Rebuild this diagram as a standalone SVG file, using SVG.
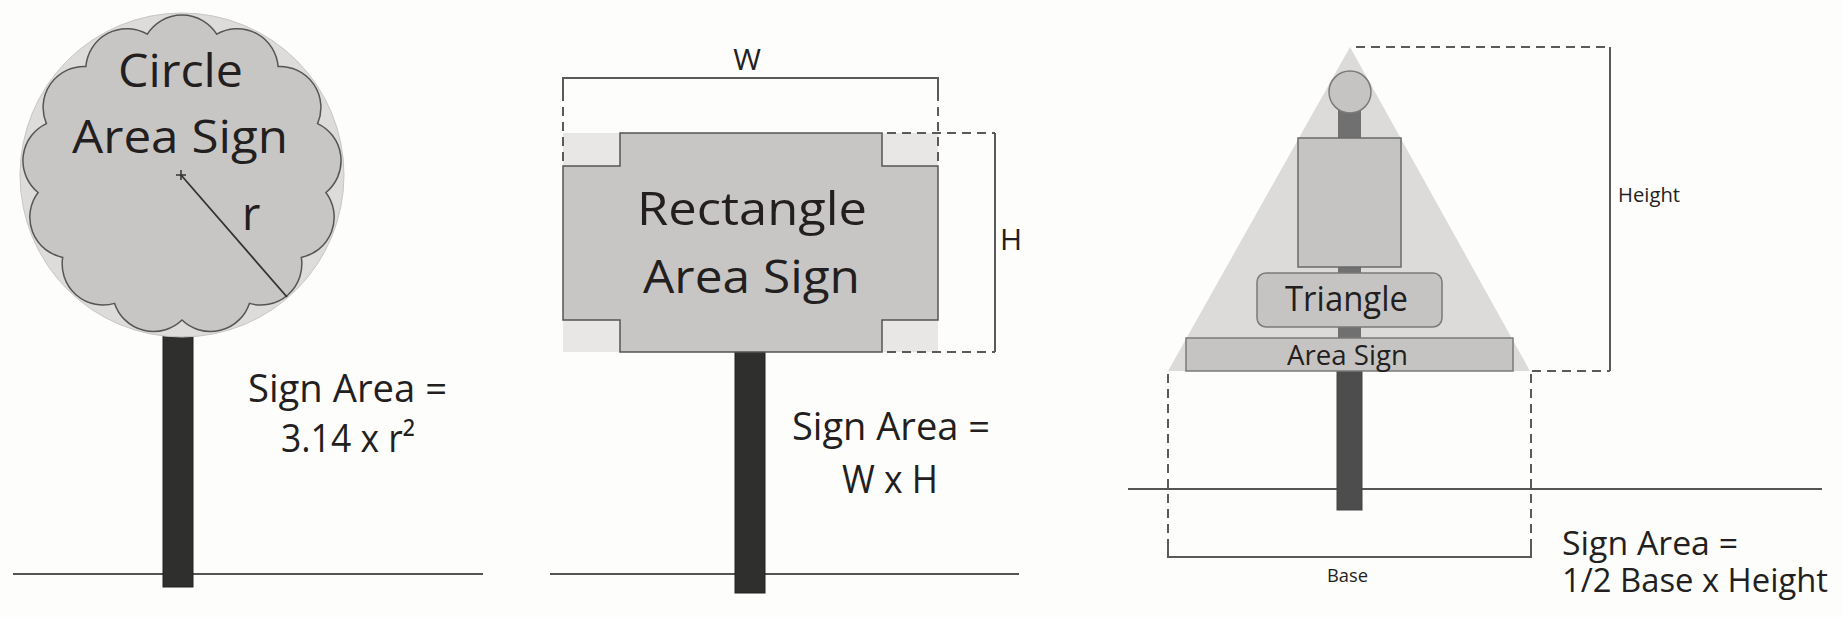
<svg xmlns="http://www.w3.org/2000/svg" width="1843" height="617" viewBox="0 0 1843 617">
<style>
.t{font-family:"Open Sans","Noto Sans","Liberation Sans",sans-serif;fill:#231f20;}
.dim{stroke:#5a5a5a;stroke-width:2;fill:none;}
.dash{stroke:#5a5a5a;stroke-width:2;fill:none;stroke-dasharray:9 6;}
.ground{stroke:#555;stroke-width:2;fill:none;}
.post{fill:#2f2f2d;stroke:#222;stroke-width:1;}
.sign{fill:#c8c6c4;stroke:#555;stroke-width:1.5;}
.light{fill:#e9e7e5;}
</style>
<rect x="0" y="0" width="1843" height="617" fill="#fdfdfb"/>

<g id="circle-sign">
  <line class="ground" x1="13" y1="574" x2="483" y2="574"/>
  <rect class="post" x="163" y="333" width="30" height="254"/>
  <circle cx="182" cy="175" r="162" fill="#dedcda" stroke="#c8c6c4" stroke-width="1"/>
  <path class="sign" d="M147.3,34.2 A41,41 0 0 1 216.7,34.2 A41,41 0 0 1 278.1,66.5 A41,41 0 0 1 317.6,123.6 A41,41 0 0 1 325.9,192.5 A41,41 0 0 1 301.3,257.4 A41,41 0 0 1 249.4,303.4 A41,41 0 0 1 182,320 A41,41 0 0 1 114.6,303.4 A41,41 0 0 1 62.7,257.4 A41,41 0 0 1 38.1,192.5 A41,41 0 0 1 46.4,123.6 A41,41 0 0 1 85.9,66.5 A41,41 0 0 1 147.3,34.2 Z"/>
  <path d="M176,175 H186 M181,170 V180" stroke="#333" stroke-width="1.5"/>
  <line x1="181" y1="175" x2="287" y2="297" stroke="#333" stroke-width="1.8"/>
  <text class="t" x="118" y="87" font-size="45" textLength="125" lengthAdjust="spacingAndGlyphs">Circle</text>
  <text class="t" x="72" y="153" font-size="45" textLength="216" lengthAdjust="spacingAndGlyphs">Area Sign</text>
  <text class="t" x="242" y="230" font-size="45">r</text>
  <text class="t" x="248" y="402" font-size="38" textLength="199" lengthAdjust="spacingAndGlyphs">Sign Area =</text>
  <text class="t" x="281" y="452" font-size="38" textLength="134" lengthAdjust="spacingAndGlyphs">3.14 x r²</text>
</g>

<g id="rectangle-sign">
  <line class="ground" x1="550" y1="574" x2="1019" y2="574"/>
  <rect class="post" x="735" y="352" width="30" height="241"/>
  <rect class="light" x="563" y="133" width="57" height="33"/>
  <rect class="light" x="882" y="133" width="56" height="33"/>
  <rect class="light" x="563" y="320" width="57" height="32"/>
  <rect class="light" x="882" y="320" width="56" height="32"/>
  <path class="sign" d="M620,133 H882 V166 H938 V320 H882 V352 H620 V320 H563 V166 H620 Z"/>
  <text class="t" x="637" y="225" font-size="46" textLength="230" lengthAdjust="spacingAndGlyphs">Rectangle</text>
  <text class="t" x="643" y="293" font-size="46" textLength="217" lengthAdjust="spacingAndGlyphs">Area Sign</text>
  <text class="t" x="747" y="70" font-size="30" text-anchor="middle">W</text>
  <text class="t" x="1000" y="250" font-size="30">H</text>
  <text class="t" x="792" y="440" font-size="38" textLength="198" lengthAdjust="spacingAndGlyphs">Sign Area =</text>
  <text class="t" x="842" y="493" font-size="38" textLength="96" lengthAdjust="spacingAndGlyphs">W x H</text>
</g>

<g id="triangle-sign">
  <line class="ground" x1="1128" y1="489" x2="1822" y2="489"/>
  <rect x="1337" y="371" width="25" height="139" fill="#4d4d4d" stroke="#444" stroke-width="1"/>
  <polygon points="1350,47 1530,371 1168,371" fill="#dddbd9"/>
  <rect x="1338" y="100" width="23" height="240" fill="#707070"/>
  <circle cx="1350" cy="92" r="21" fill="#c6c4c2" stroke="#7a7a7a" stroke-width="1.5"/>
  <rect x="1298" y="138" width="103" height="129" fill="#c6c4c2" stroke="#6a6a6a" stroke-width="1.5"/>
  <rect x="1257" y="273" width="185" height="54" rx="9" fill="#c6c4c2" stroke="#7a7a7a" stroke-width="1.5"/>
  <rect x="1186" y="338" width="327" height="33" fill="#c6c4c2" stroke="#7a7a7a" stroke-width="1.5"/>
  <text class="t" x="1285" y="311" font-size="34" textLength="123" lengthAdjust="spacingAndGlyphs">Triangle</text>
  <text class="t" x="1287" y="365" font-size="28" textLength="121" lengthAdjust="spacingAndGlyphs">Area Sign</text>
  <text class="t" x="1618" y="202" font-size="20" textLength="62" lengthAdjust="spacingAndGlyphs">Height</text>
  <text class="t" x="1327" y="582" font-size="18" textLength="41" lengthAdjust="spacingAndGlyphs">Base</text>
  <text class="t" font-size="32"><tspan x="1562" y="555" textLength="176" lengthAdjust="spacingAndGlyphs">Sign Area =</tspan><tspan x="1562" y="592" textLength="266" lengthAdjust="spacingAndGlyphs">1/2 Base x Height</tspan></text>
</g>

<g id="connectors">
  <path class="dim" d="M563,92 V78 H938 V92"/>
  <path class="dash" d="M563,92 V166 M938,92 V166"/>
  <path class="dim" d="M995,133 V352"/>
  <path class="dash" d="M887,133 H995 M887,352 H995"/>
  <path class="dim" d="M1610,47 V371"/>
  <path class="dash" d="M1356,47 H1610 M1532,371 H1610"/>
  <path class="dim" d="M1168,545 V557 H1531 V545"/>
  <path class="dash" d="M1168,374 V545 M1531,374 V545"/>
</g>
</svg>
